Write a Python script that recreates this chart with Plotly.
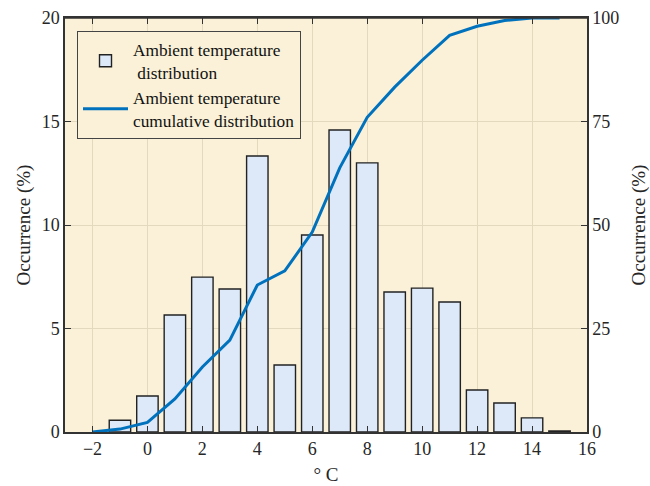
import plotly.graph_objects as go

bin_centers = [-1, 0, 1, 2, 3, 4, 5, 6, 7, 8, 9, 10, 11, 12, 13, 14, 15]
occurrence = [0.57, 1.74, 5.65, 7.48, 6.91, 13.33, 3.24, 9.52, 14.59, 13.0, 6.76, 6.95, 6.28, 2.03, 1.40, 0.68, 0.05]

cum_x = [-2, -1, 0, 1, 2, 3, 4, 5, 6, 7, 8, 9, 10, 11, 12, 13, 14, 15]
cum_y = [0.0, 0.7, 2.3, 8.0, 15.7, 22.2, 35.5, 38.9, 48.3, 63.8, 76.0, 83.3, 89.8, 95.8, 98.0, 99.4, 100.0, 100.0]

x_ticks = [-2, 0, 2, 4, 6, 8, 10, 12, 14, 16]
y_ticks = [0, 5, 10, 15, 20]
y2_ticks = [0, 25, 50, 75, 100]

font = "Liberation Serif"
bg = "#FAF1D8"
grid = "#E2D9BF"
axcol = "#333333"

fig = go.Figure()
fig.add_trace(go.Bar(
    x=bin_centers, y=occurrence, width=0.78,
    marker=dict(color="#DDE9F9", line=dict(color="#222222", width=1.4)),
    name="Ambient temperature<br> distribution",
))
fig.add_trace(go.Scatter(
    x=cum_x, y=cum_y, mode="lines", yaxis="y2",
    line=dict(color="#0072BD", width=3),
    name="Ambient temperature<br>cumulative distribution",
))

fig.update_layout(
    width=650, height=486,
    margin=dict(l=65, r=63, t=18, b=54),
    paper_bgcolor="white", plot_bgcolor=bg,
    font=dict(family=font, size=18, color="#262626"),
    showlegend=True,
    legend=dict(
        x=0.023, y=0.969, xanchor="left", yanchor="top",
        bgcolor=bg, bordercolor="#444444", borderwidth=1,
        font=dict(family=font, size=17.3, color="#111111"),
        tracegroupgap=0, itemwidth=45,
    ),
    xaxis=dict(
        range=[-3, 16], tickvals=x_ticks, ticks="inside", ticklen=6,
        tickcolor=axcol, showline=True, linecolor=axcol, linewidth=1.5,
        mirror="ticks", showgrid=True, gridcolor=grid, zeroline=False,
        tickfont=dict(size=18), automargin=False,
        title=dict(text="° C", font=dict(size=19), standoff=9),
    ),
    yaxis=dict(
        range=[0, 20], tickvals=y_ticks, ticks="inside", ticklen=6,
        tickcolor=axcol, showline=True, linecolor=axcol, linewidth=1.5,
        showgrid=True, gridcolor=grid, zeroline=False,
        tickfont=dict(size=18), automargin=False,
        title=dict(text="Occurrence (%)", font=dict(size=19), standoff=6),
    ),
    yaxis2=dict(
        range=[0, 100], tickvals=y2_ticks, ticks="inside", ticklen=6,
        tickcolor=axcol, showline=True, linecolor=axcol, linewidth=1.5,
        overlaying="y", side="right", showgrid=False, zeroline=False,
        tickfont=dict(size=18), automargin=False,
        title=dict(text="Occurrence (%)", font=dict(size=19), standoff=14),
    ),
    bargap=0.2,
)
fig.add_shape(type="line", xref="paper", yref="paper", x0=0, x1=1, y0=1, y1=1,
              line=dict(color=axcol, width=1.5))

fig.write_html("out.html")
